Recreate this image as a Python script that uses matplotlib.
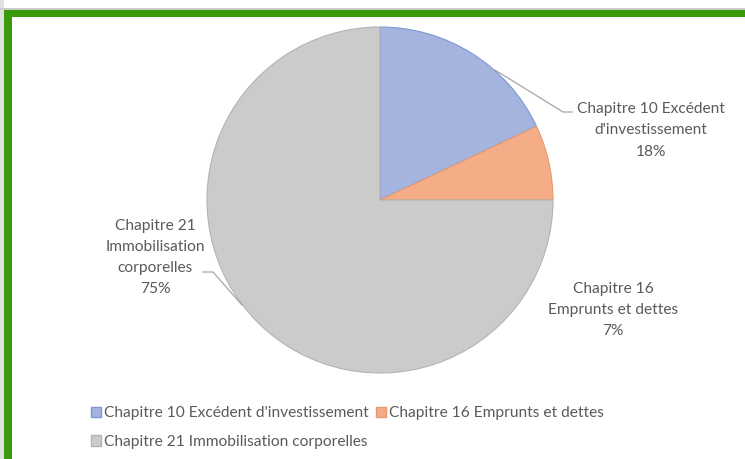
import matplotlib
matplotlib.use("Agg")
import matplotlib.pyplot as plt
from matplotlib.patches import Rectangle, Patch

categories = ["Chapitre 10 Excédent d'investissement",
              "Chapitre 16 Emprunts et dettes",
              "Chapitre 21 Immobilisation corporelles"]
values = [18, 7, 75]
label_texts = ["Chapitre 10 Excédent\nd'investissement\n18%",
               "Chapitre 16\nEmprunts et dettes\n7%",
               "Chapitre 21\nImmobilisation\ncorporelles\n75%"]

colors = ["#a4b4df", "#f5ad88", "#cbcbcb"]
edges = ["#7f97d2", "#e59a70", "#b3b3b3"]
text_color = "#5a5a5a"

W, H = 745, 459
fig = plt.figure(figsize=(W / 100, H / 100), dpi=100)
fig.patch.set_facecolor("white")
ax = fig.add_axes([0, 0, 1, 1])

cx, cy, r = 380, H - 200, 173
wedges, _ = ax.pie(values, colors=colors, startangle=90, counterclock=False,
                   center=(cx, cy), radius=r, frame=True,
                   wedgeprops=dict(linewidth=0.8))
for w, ec in zip(wedges, edges):
    w.set_edgecolor(ec)
ax.set_xlim(0, W)
ax.set_ylim(0, H)
ax.set_aspect("equal")
ax.axis("off")

font = "Lato"
fs = 11.2
ls = 1.65
# data labels
ax.text(651, H - 130.5, label_texts[0], ha="center", va="center", fontsize=fs,
        color=text_color, family=font, linespacing=ls)
ax.text(613, H - 310, label_texts[1], ha="center", va="center", fontsize=fs,
        color=text_color, family=font, linespacing=ls)
ax.text(155, H - 257.5, label_texts[2], ha="center", va="center", fontsize=fs,
        color=text_color, family=font, linespacing=ls)

# leader lines
lc = "#a6a6a6"
ax.plot([495, 563, 572], [H - 70, H - 112, H - 112], color=lc, lw=0.9)
ax.plot([203, 213, 242], [H - 272, H - 272, H - 305], color=lc, lw=0.9)

# legend
handles = [Patch(facecolor=colors[0], edgecolor=edges[0], label=categories[0]),
           Patch(facecolor=colors[2], edgecolor=edges[2], label=categories[2]),
           Patch(facecolor=colors[1], edgecolor=edges[1], label=categories[1])]
leg = fig.legend(handles=handles, ncol=2, loc="upper left",
                 bbox_to_anchor=(85 / W, 1 - 400 / H), frameon=False,
                 handlelength=0.65, handleheight=0.65, handletextpad=0.2,
                 columnspacing=0.45, labelspacing=0.95, borderaxespad=0,
                 prop=dict(family=font, size=fs))
for t in leg.get_texts():
    t.set_color(text_color)

# green frame and surroundings
fig.patches.append(Rectangle((0, 0), 4 / W, 1, transform=fig.transFigure,
                             facecolor="#dde3dd", edgecolor="none", zorder=5))
fig.patches.append(Rectangle((0, 1 - 9.5 / H), 1, 1 / H, transform=fig.transFigure,
                             facecolor="#c8cfc8", edgecolor="none", zorder=5))
fig.patches.append(Rectangle((4 / W, 1 - 17 / H), 1, 7 / H, transform=fig.transFigure,
                             facecolor="#3a9a0a", edgecolor="none", zorder=6))
fig.patches.append(Rectangle((4 / W, 0), 8 / W, 1 - 10 / H, transform=fig.transFigure,
                             facecolor="#3a9a0a", edgecolor="none", zorder=6))

fig.savefig("out.png", dpi=100)
